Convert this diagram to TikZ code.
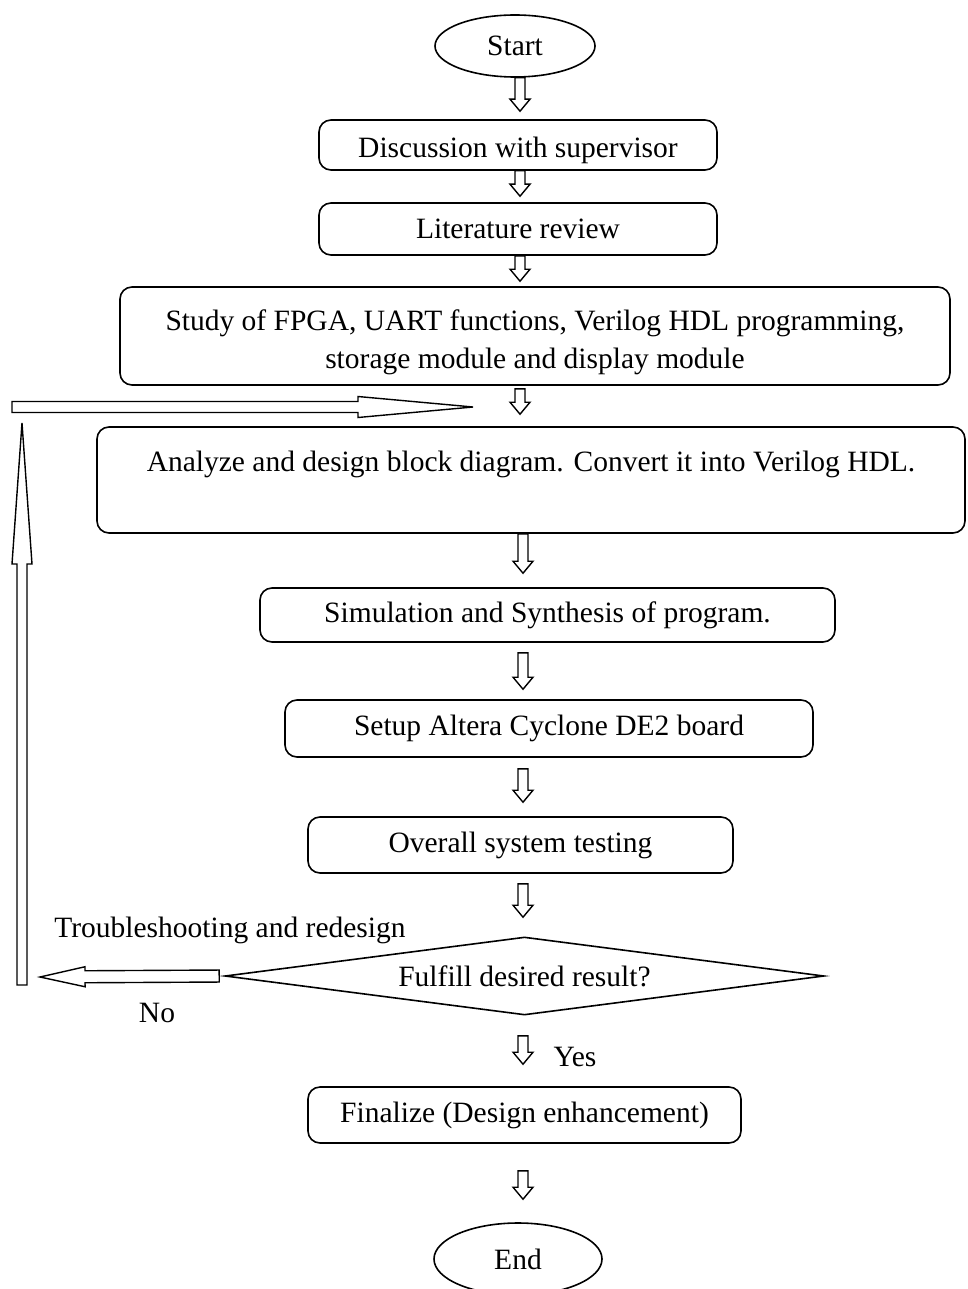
\documentclass[tikz,border=0pt]{standalone}
\usepackage{fontspec}
\setmainfont{Liberation Serif}
\usetikzlibrary{shapes.geometric,calc}
\def\hgs{0}\def\hge{0}\def\hw{5}\def\hW{10}\def\hhl{12}
\tikzset{
  gapS/.code={\def\hgs{#1}}, gapE/.code={\def\hge{#1}},
  shaftw/.code={\def\hw{#1}}, headw/.code={\def\hW{#1}}, headl/.code={\def\hhl{#1}},
  conn/.style={line width=1.4pt, line join=miter},
  hollow/.style={to path={
    let \p1=(\tikztostart), \p2=(\tikztotarget),
        \n1={atan2(\y2-\y1,\x2-\x1)}, \n2={veclen(\x2-\x1,\y2-\y1)} in
    {[shift={(\p1)}, rotate=\n1]
      (\hgs pt,-\hw pt) -- (\n2-\hge pt-\hhl pt,-\hw pt) -- (\n2-\hge pt-\hhl pt,-\hW pt)
      -- (\n2-\hge pt,0pt) -- (\n2-\hge pt-\hhl pt,\hW pt) -- (\n2-\hge pt-\hhl pt,\hw pt)
      -- (\hgs pt,\hw pt) -- cycle}
  }},
  txt/.style={font=\fontsize{29.5}{38}\selectfont, inner sep=0pt},
  box/.style={txt, draw, line width=1.6pt, rounded corners=12pt, rectangle, align=center},
  term/.style={txt, draw, line width=1.6pt, ellipse},
}
\begin{document}
\begin{tikzpicture}[x=1pt,y=-1pt]
\useasboundingbox (0,0) rectangle (967,1289);
% nodes
\node[term, minimum width=160pt, minimum height=62pt] (start) at (515,46) {Start};
\node[box, minimum width=398pt, minimum height=50pt, text height=32pt, text depth=6.4pt] (disc) at (518,145) {Discussion with supervisor};
\node[box, minimum width=398pt, minimum height=52pt, text height=26pt, text depth=6.4pt] (lit) at (518,229) {Literature review};
\node[box, minimum width=830pt, minimum height=98pt] (study) at (535,336)
  {\rule{0pt}{34pt}Study of FPGA, UART functions, Verilog HDL programming,\\storage module and display module};
\node[box, minimum width=868pt, minimum height=106pt] (ana) at (531,480)
  {Analyze and design block diagram. Convert it into Verilog HDL.\\\mbox{}};
\node[box, minimum width=575pt, minimum height=54pt] (sim) at (547.5,615) {Simulation and Synthesis of program.};
\node[box, minimum width=528pt, minimum height=57pt] (setup) at (549,728.5) {Setup Altera Cyclone DE2 board};
\node[box, minimum width=425pt, minimum height=56pt] (test) at (520.5,845) {Overall system testing};
\node[txt, draw, line width=1.6pt, diamond, aspect=7.68, minimum width=599pt, minimum height=78pt] (dia) at (524.5,976) {Fulfill desired result?};
\node[box, minimum width=433pt, minimum height=56pt] (fin) at (524.5,1115) {Finalize (Design enhancement)};
\node[term, minimum width=168pt, minimum height=72pt] (end) at (518,1259) {End};
% labels
\node[txt] (trl) at (230,930) {Troubleshooting and redesign};
\node[txt] (nol) at (157,1013) {No};
\node[txt] (yesl) at (575,1057) {Yes};
% axes and free ends
\coordinate (axA) at (520,0);
\coordinate (axB) at (523,0);
\coordinate (fbA) at (12,407);
\coordinate (fbB) at (473,407);
\coordinate (noTip) at (40,977);
\coordinate (upA) at (22,985);
\coordinate (upB) at (22,423);
% connectors
\draw[conn] (start.south -| axA) to[hollow, gapE=8] (disc.north -| axA);
\draw[conn] (disc.south -| axA) to[hollow, gapE=6] (lit.north -| axA);
\draw[conn] (lit.south -| axA) to[hollow, gapE=5] (study.north -| axA);
\draw[conn] (study.south -| axA) to[hollow, gapS=3, gapE=12] (ana.north -| axA);
\draw[conn] (ana.south -| axB) to[hollow, gapE=14] (sim.north -| axB);
\draw[conn] (sim.south -| axB) to[hollow, gapS=10, gapE=10] (setup.north -| axB);
\draw[conn] (setup.south -| axB) to[hollow, gapS=11, gapE=14] (test.north -| axB);
\draw[conn] (test.south -| axB) to[hollow, gapS=10, gapE=19] (dia.north -| axB);
\draw[conn] (dia.south -| axB) to[hollow, gapS=20, gapE=22] (fin.north -| axB);
\draw[conn] (fin.south -| axB) to[hollow, gapS=27, gapE=23] (end.north -| axB);
\draw[conn] (dia.west) to[hollow, gapS=5, headl=45, shaftw=6, headw=10] (noTip);
\draw[conn] (upA) to[hollow, headl=141, shaftw=5, headw=10] (upB);
\draw[conn] (fbA) to[hollow, headl=115, shaftw=5.5, headw=10.5] (fbB);
\end{tikzpicture}
\end{document}
